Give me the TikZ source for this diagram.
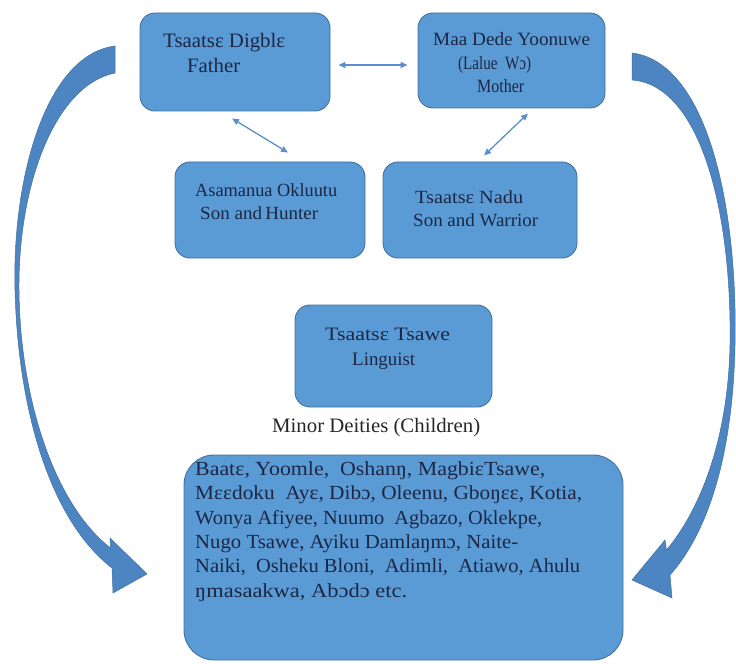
\documentclass[tikz,border=0pt]{standalone}
\usepackage{fontspec}
\setmainfont{Liberation Serif}
\newfontfamily\deityfont{Liberation Serif}
\usetikzlibrary{arrows.meta}
\definecolor{boxfill}{HTML}{5B9BD5}
\definecolor{boxline}{HTML}{41719C}
\definecolor{bandfill}{HTML}{4D85C3}
\definecolor{inktext}{HTML}{1B2744}
\definecolor{linkblue}{HTML}{5B8FCB}
% set a line of text to a given width, keeping its height
\newcommand\widthto[2]{\resizebox{#1}{\height}{#2}}
\begin{document}
\begin{tikzpicture}[x=1pt,y=-1pt,
  box/.style={draw=boxline, line width=0.9pt, fill=boxfill, rounded corners=15pt, inner sep=0pt},
  lbl/.style={anchor=base west, inner sep=0pt, text=inktext, font=\deityfont\fontsize{#1}{24}\selectfont},
  lbl/.default=19,
  plain/.style={anchor=base west, inner sep=0pt, text=black!85, font=\deityfont\fontsize{20.5}{24}\selectfont},
  link/.style={draw=linkblue, line width=1.3pt, {Triangle[length=7pt,width=6pt]}-{Triangle[length=7pt,width=6pt]}},
  curvedband/.style={fill=bandfill, draw=boxline, line width=0.5pt, line join=miter}]
\useasboundingbox (0,0) rectangle (736,671);

% boxes
\node[box, minimum width=190pt, minimum height=98pt] (father) at (235,62) {};
\node[box, minimum width=187pt, minimum height=95pt] (mother) at (511.5,60.5) {};
\node[box, minimum width=190pt, minimum height=96pt] (hunter) at (270,210) {};
\node[box, minimum width=194pt, minimum height=96pt] (warrior) at (480,210) {};
\node[box, minimum width=197pt, minimum height=102pt] (linguist) at (393.5,356) {};
\node[box, rounded corners=30pt, minimum width=439pt, minimum height=205pt] (minor) at (403.5,557.5) {};

% box texts
\node[lbl=20.5] (fatherA) at (163,48) {\widthto{122pt}{Tsaatsɛ Digblɛ}};
\node[lbl=20.5] (fatherB) at (187,73) {\widthto{53pt}{Father}};
\node[lbl=18.8] (motherA) at (433,46) {\widthto{157pt}{Maa Dede Yoonuwe}};
\node[lbl=18.8] (motherB) at (458,70) {\widthto{73pt}{(Lalue\ \ Wɔ)}};
\node[lbl=18.8] (motherC) at (477,93) {\widthto{47pt}{Mother}};
\node[lbl=18.6] (hunterA) at (195,197) {\widthto{142pt}{Asamanua Okluutu}};
\node[lbl=18.6] (hunterB) at (200,220) {\widthto{118pt}{Son and\,Hunter}};
\node[lbl=18.6] (warriorA) at (415,204) {\widthto{108pt}{Tsaatsɛ Nadu}};
\node[lbl=18.6] (warriorB) at (413,227) {\widthto{125pt}{Son and Warrior}};
\node[lbl=19] (linguistA) at (325,340) {\widthto{125pt}{Tsaatsɛ Tsawe}};
\node[lbl=19] (linguistB) at (352,365) {\widthto{63pt}{Linguist}};
\node[plain] (caption) at (272,432) {\widthto{208pt}{Minor Deities (Children)}};

\node[lbl=20] (minorA) at (195,475) {\widthto{350pt}{Baatɛ, Yoomle,\ \ Oshanŋ, MagbiɛTsawe,}};
\node[lbl=20] (minorB) at (195,499) {\widthto{387pt}{Mɛɛdoku\ \ Ayɛ, Dibɔ, Oleenu, Gboŋɛɛ, Kotia,}};
\node[lbl=20] (minorC) at (195,524) {\widthto{347pt}{Wonya Afiyee, Nuumo\ \ Agbazo, Oklekpe,}};
\node[lbl=20] (minorD) at (195,548) {\widthto{323pt}{Nugo Tsawe, Ayiku Damlaŋmɔ, Naite-}};
\node[lbl=20] (minorE) at (195,572) {\widthto{385pt}{Naiki,\ \ Osheku Bloni,\ \ Adimli,\ \ Atiawo, Ahulu}};
\node[lbl=20] (minorF) at (195,597) {\widthto{212pt}{ŋmasaakwa, Abɔdɔ etc.}};

% links between the deities
\draw[link] ([shift={(8pt,-3pt)}]father.east) -- ([shift={(-10pt,-4.5pt)}]mother.west);
\draw[link] ([shift={(-3pt,-7pt)}]father.south) -- ([shift={(18pt,9pt)}]hunter.north);
\draw[link] ([shift={(16.5pt,-5pt)}]mother.south) -- ([shift={(4pt,6pt)}]warrior.north);

% curved arrow on the left
\filldraw[curvedband] (115,46) .. controls (45,55) and (12,180) .. (15,290)
  .. controls (18,410) and (50,520) .. (112,568)
  -- (113,593) -- (147,574) -- (110,538) -- (110.5,548)
  .. controls (55,505) and (20,400) .. (19,290)
  .. controls (18,185) and (55,85) .. (115,73) -- cycle;

% curved arrow on the right
\filldraw[curvedband] (632,53) .. controls (705,62) and (738,200) .. (735,345)
  .. controls (733,450) and (710,530) .. (670,575)
  -- (672,598) -- (632,580) -- (665,540) -- (666.5,550)
  .. controls (700,510) and (728,440) .. (730,345)
  .. controls (732,210) and (700,85) .. (632,80) -- cycle;
\end{tikzpicture}
\end{document}
